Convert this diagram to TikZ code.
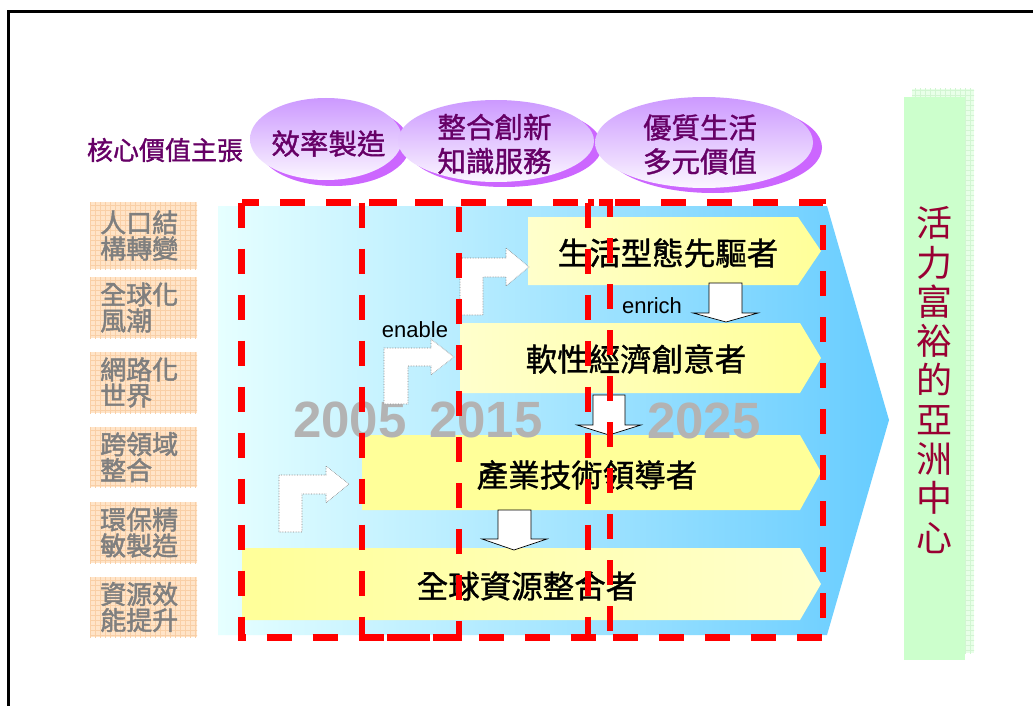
\documentclass[tikz,border=0pt]{standalone}
\usepackage{fontspec}
\setmainfont{Liberation Sans}
\newfontfamily\cjk{Noto Sans CJK TC}
\newfontfamily\cjkbold[FakeBold=1.2]{Noto Sans CJK TC}
\newfontfamily\cjkheavy[FakeBold=1.8]{Noto Sans CJK TC}
\definecolor{valpurple}{HTML}{660066}
\definecolor{lavtop}{HTML}{CC99FF}
\definecolor{lavbot}{HTML}{FBF6FF}
\definecolor{lavshadow}{HTML}{CC66FF}
\definecolor{trendgray}{HTML}{7F7F7F}
\definecolor{peachfill}{HTML}{FFE4C8}
\definecolor{peachgrid}{HTML}{F9CFA6}
\definecolor{blueleft}{HTML}{E6FFFF}
\definecolor{blueright}{HTML}{66CCFF}
\definecolor{ylwdeep}{HTML}{FFFF99}
\definecolor{ylwpale}{HTML}{FFFFCC}
\definecolor{reddash}{HTML}{FF0000}
\definecolor{yeargray}{HTML}{B3B3B3}
\definecolor{greenfront}{HTML}{CCFFCC}
\definecolor{greenback}{HTML}{E8FFE8}
\definecolor{greengrid}{HTML}{D2F5D2}
\definecolor{goaltext}{HTML}{990033}
\begin{document}
\begin{tikzpicture}[x=1pt,y=-1pt,
  valtext/.style={font=\cjkbold\fontsize{28.5}{34}\selectfont, text=valpurple, align=center, inner sep=0},
  trend/.style={font=\cjkheavy\fontsize{26}{26}\selectfont, text=trendgray, align=left, inner sep=0},
  bartext/.style={font=\cjkbold\fontsize{31.5}{34}\selectfont, text=black, inner sep=0},
  yeartext/.style={font=\fontsize{51}{51}\selectfont\bfseries, text=yeargray, inner sep=0},
  smalltext/.style={font=\fontsize{22}{22}\selectfont, text=black, inner sep=0, anchor=base},
  reddashed/.style={draw=reddash, line width=6.5, dash pattern=on 25pt off 21pt},
  larrow/.style={fill=white, draw=gray, line width=0.6, densely dotted},
  darrow/.style={fill=white, draw=black, line width=0.7},
]
\useasboundingbox (0,0) rectangle (1033,706);
\fill[white] (0,0) rectangle (1033,706);
% frame
\draw[line width=2.7] (8.3,706) -- (8.3,11.3) -- (1033,11.3);

% value ellipses
\fill[lavshadow] (334,145) ellipse [x radius=76, y radius=41];
\shade[top color=lavtop, bottom color=lavbot] (326,139) ellipse [x radius=76, y radius=41];
\fill[lavshadow] (504,146) ellipse [x radius=98, y radius=41];
\shade[top color=lavtop, bottom color=lavbot] (496,141) ellipse [x radius=98, y radius=41];
\fill[lavshadow] (713,147.5) ellipse [x radius=109, y radius=45.5];
\shade[top color=lavtop, bottom color=lavbot] (704,142.5) ellipse [x radius=109, y radius=45.5];
\node[valtext, font=\cjkbold\fontsize{26}{26}\selectfont] (core) at (165,150) {核心價值主張};
\node[valtext] (v1) at (328.5,143.5) {效率製造};
\node[valtext] (v2) at (494.5,144) {整合創新\\知識服務};
\node[valtext] (v3) at (700,144.5) {優質生活\\多元價值};

% trend boxes
\foreach \t/\b/\la/\lb [count=\i] in {202/269/人口結/構轉變, 277/338/全球化/風潮, 352/413/網路化/世界, 427/487/跨領域/整合, 502/563/環保精/敏製造, 577/637/資源效/能提升}{
  \fill[peachfill] (90,\t) rectangle (197,\b);
  \begin{scope}
    \clip (90,\t) rectangle (197,\b);
    \draw[peachgrid, line width=0.6, step=5pt] (85,190) grid (200,650);
  \end{scope}
  \node[trend, anchor=west] (trend\i) at (100,{(\t+\b)/2}) {\la\\\lb};
}

% big blue arrow
\shade[left color=blueleft, right color=blueright] (218,206) -- (827,206) -- (889,420) -- (827,635) -- (218,635) -- cycle;

% yellow bars
\shade[left color=ylwpale, right color=ylwdeep] (528,217) -- (798,217) -- (821,251) -- (798,285) -- (528,285) -- cycle;
\shade[left color=ylwpale, right color=ylwdeep] (460,323) -- (800,323) -- (821,358) -- (800,393) -- (460,393) -- cycle;
\fill[ylwdeep] (362,435) -- (800,435) -- (821,472) -- (800,510) -- (362,510) -- cycle;
\shade[left color=ylwdeep, right color=ylwpale] (242,548) -- (800,548) -- (821,584) -- (800,620) -- (242,620) -- cycle;
\node[bartext] (b1) at (668,253) {生活型態先驅者};
\node[bartext] (b2) at (636,359) {軟性經濟創意者};
\node[bartext] (b3) at (587,475) {產業技術領導者};
\node[bartext] (b4) at (527,586) {全球資源整合者};

% year labels
\node[yeartext] (y2005) at (350,420) {2005};
\node[yeartext] (y2015) at (486,420) {2015};
\node[yeartext] (y2025) at (704,421) {2025};

% bent (enable) arrows
\draw[larrow] (279,532) -- (279,475) -- (326,475) -- (326,466) -- (349,484) -- (326,503) -- (326,494) -- (302,494) -- (302,532) -- cycle;
\draw[larrow] (384,404) -- (384,348) -- (431,348) -- (431,339) -- (454,357) -- (431,375) -- (431,366) -- (408,366) -- (408,404) -- cycle;
\draw[larrow] (460,315) -- (460,258) -- (506,258) -- (506,248) -- (529,267) -- (506,286) -- (506,277) -- (483,277) -- (483,315) -- cycle;
\node[smalltext] (enable) at (415,337) {enable};

% down (enrich) arrows
\draw[darrow] (709,283) -- (742,283) -- (742,313) -- (758,313) -- (726,322) -- (693,313) -- (709,313) -- cycle;
\draw[darrow] (593,395) -- (625,395) -- (625,425) -- (641,425) -- (609,435) -- (577,425) -- (593,425) -- cycle;
\draw[darrow] (498,510) -- (531,510) -- (531,539) -- (547,539) -- (514,550) -- (482,539) -- (498,539) -- cycle;
\node[smalltext] (enrich) at (652,313) {enrich};

% red dashed period frames
\draw[reddashed] (241.5,202.5) rectangle (459,637.5);
\draw[reddashed] (362,202.5) rectangle (610,637.5);
\draw[reddashed] (588,202.5) rectangle (823,637.5);

% goal box
\fill[greenback] (912,89) rectangle (974,653);
\begin{scope}
  \clip (912,89) rectangle (974,653);
  \draw[greengrid, line width=0.6, step=5pt] (905,80) grid (980,660);
\end{scope}
\fill[greenfront] (904,97) rectangle (965,660);
\node[font=\cjk\fontsize{36}{39.3}\selectfont, text=goaltext, align=center, inner sep=0] (goal) at (934,380) {活\\力\\富\\裕\\的\\亞\\洲\\中\\心};
\end{tikzpicture}
\end{document}
